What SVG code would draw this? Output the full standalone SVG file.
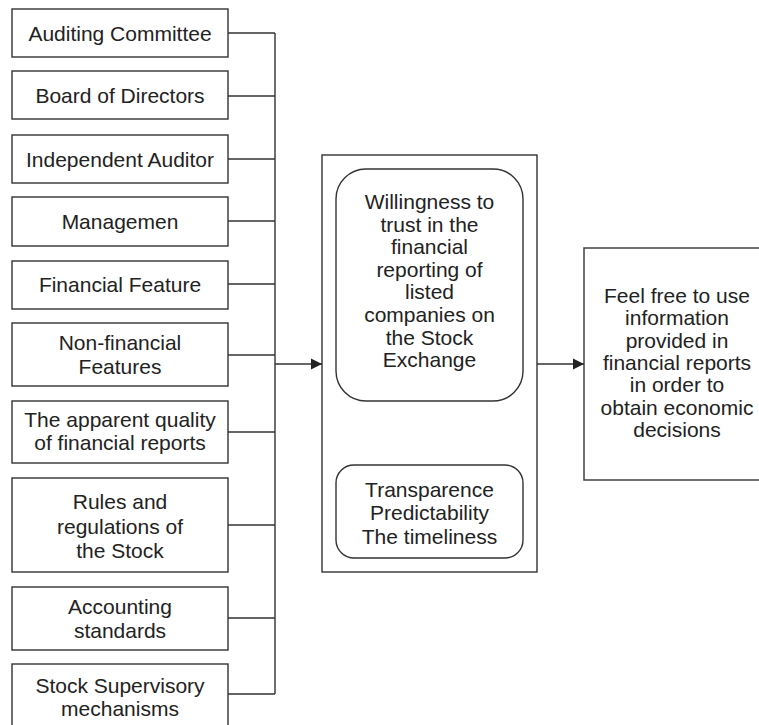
<svg xmlns="http://www.w3.org/2000/svg" width="759" height="725" viewBox="0 0 759 725">
<defs>
<marker id="arr" markerWidth="12" markerHeight="12" refX="11" refY="6" orient="auto" markerUnits="userSpaceOnUse">
<path d="M0,0.5 L11,6 L0,11.5 Z" fill="#222"/>
</marker>
<style>
.box{fill:#fff;stroke:#333;stroke-width:1.4}
.t{font-family:"Liberation Sans",Arial,sans-serif;font-size:21px;fill:#222;text-anchor:middle}
.c{fill:none;stroke:#333;stroke-width:1.4}
</style>
</defs>
<rect width="759" height="725" fill="#fff"/>
<g id="connectors">
<path class="c" d="M228,33H275M228,96H275M228,159H275M228,221H275M228,284H275M228,355H275M228,432H275M228,525H275M228,618H275M228,694H275M275,33V694"/>
<line class="c" x1="275" y1="364" x2="322" y2="364" marker-end="url(#arr)"/>
<line class="c" x1="537" y1="364" x2="584" y2="364" marker-end="url(#arr)"/>
</g>
<g id="n1"><rect class="box" x="12" y="9" width="216" height="48"/><text class="t" x="120" y="40.5">Auditing Committee</text></g>
<g id="n2"><rect class="box" x="12" y="71" width="216" height="48"/><text class="t" x="120" y="102.5">Board of Directors</text></g>
<g id="n3"><rect class="box" x="12" y="135" width="216" height="48"/><text class="t" x="120" y="166.5">Independent Auditor</text></g>
<g id="n4"><rect class="box" x="12" y="197" width="216" height="49"/><text class="t" x="120" y="229">Managemen</text></g>
<g id="n5"><rect class="box" x="12" y="261" width="216" height="48"/><text class="t" x="120" y="292">Financial Feature</text></g>
<g id="n6"><rect class="box" x="12" y="323" width="216" height="63"/><text class="t" x="120" y="350">Non-financial</text><text class="t" x="120" y="374">Features</text></g>
<g id="n7"><rect class="box" x="12" y="401" width="216" height="62"/><text class="t" x="120" y="427">The apparent quality</text><text class="t" x="120" y="449.5">of financial reports</text></g>
<g id="n8"><rect class="box" x="12" y="478" width="216" height="94"/><text class="t" x="120" y="509">Rules and</text><text class="t" x="120" y="533.5">regulations of</text><text class="t" x="120" y="557.5">the Stock</text></g>
<g id="n9"><rect class="box" x="12" y="587" width="216" height="63"/><text class="t" x="120" y="614">Accounting</text><text class="t" x="120" y="638">standards</text></g>
<g id="n10"><rect class="box" x="12" y="664" width="216" height="70"/><text class="t" x="120" y="692.5">Stock Supervisory</text><text class="t" x="120" y="715.5">mechanisms</text></g>
<g id="center">
<rect class="box" x="322" y="155" width="215" height="417"/>
<g id="trust"><rect class="box" x="336" y="169" width="187" height="232" rx="30" ry="30"/>
<text class="t" x="429.5" y="209">Willingness to</text>
<text class="t" x="429.5" y="231.6">trust in the</text>
<text class="t" x="429.5" y="254.2">financial</text>
<text class="t" x="429.5" y="276.8">reporting of</text>
<text class="t" x="429.5" y="299.4">listed</text>
<text class="t" x="429.5" y="322">companies on</text>
<text class="t" x="429.5" y="344.6">the Stock</text>
<text class="t" x="429.5" y="367.2">Exchange</text>
</g>
<g id="qual"><rect class="box" x="336" y="465" width="187" height="93" rx="18" ry="18"/>
<text class="t" x="429.5" y="496.5">Transparence</text>
<text class="t" x="429.5" y="520">Predictability</text>
<text class="t" x="429.5" y="543.5">The timeliness</text>
</g>
</g>
<g id="result"><rect class="box" x="584" y="248" width="190" height="232"/>
<text class="t" x="677" y="303">Feel free to use</text>
<text class="t" x="677" y="325.3">information</text>
<text class="t" x="677" y="347.6">provided in</text>
<text class="t" x="677" y="369.9">financial reports</text>
<text class="t" x="677" y="392.2">in order to</text>
<text class="t" x="677" y="414.5">obtain economic</text>
<text class="t" x="677" y="436.8">decisions</text>
</g>
</svg>
